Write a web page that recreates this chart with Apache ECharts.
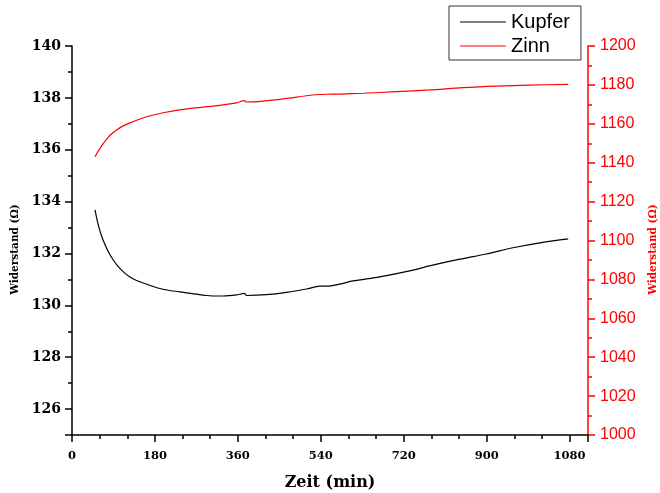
<!DOCTYPE html>
<html>
<head>
<meta charset="utf-8">
<script src="https://cdn.jsdelivr.net/npm/echarts@6/dist/echarts.min.js"></script>
<style>
  html, body { margin: 0; padding: 0; background: #fff; }
  #chart { width: 660px; height: 493px; }
</style>
</head>
<body>
<div id="chart"></div>
<script>
// Kupfer: Widerstand in Ohm (linke Achse)
const kupferZeit = [50, 55, 61, 66, 72, 80, 90, 100, 111, 125, 140, 195, 234, 292, 328, 357, 374, 379, 422, 466, 509, 538, 552, 581, 610, 668, 733, 776, 834, 899, 957, 1022, 1077];
const kupferWiderstand = [133.68, 133.25, 132.85, 132.59, 132.33, 132.03, 131.74, 131.50, 131.30, 131.10, 130.96, 130.63, 130.52, 130.38, 130.36, 130.40, 130.46, 130.38, 130.41, 130.50, 130.63, 130.74, 130.74, 130.82, 130.94, 131.10, 131.33, 131.52, 131.75, 131.98, 132.22, 132.43, 132.56];

// Zinn: Widerstand in Ohm (rechte Achse)
const zinnZeit = [50, 55, 60, 67, 75, 85, 97, 110, 126, 162, 198, 249, 306, 357, 374, 379, 451, 523, 552, 581, 632, 704, 776, 849, 921, 993, 1077];
const zinnWiderstand = [1143.1, 1145.2, 1147.0, 1149.6, 1152.0, 1154.6, 1156.8, 1158.8, 1160.5, 1163.6, 1165.7, 1167.7, 1169.1, 1170.8, 1171.9, 1171.2, 1172.6, 1174.8, 1175.2, 1175.3, 1175.7, 1176.5, 1177.4, 1178.6, 1179.4, 1179.9, 1180.3];

const serienNamen = ['Kupfer', 'Zinn'];
const achsenTitelX = 'Zeit (min)';
const achsenTitelY = 'Widerstand (Ω)';

const pairs = (xs, ys) => xs.map((x, i) => [x, ys[i]]);
const plain = (v) => String(v);

const serif = '"DejaVu Serif", "Liberation Serif", serif';
const sans = '"Liberation Sans", Arial, sans-serif';
const red = '#ff0000';

const chart = echarts.init(document.getElementById('chart'), null, { renderer: 'canvas' });
chart.setOption({
  animation: false,
  backgroundColor: '#fff',
  grid: { left: 72, right: 72, top: 46, bottom: 58, containLabel: false, outerBoundsMode: 'none' },
  legend: {
    orient: 'vertical',
    left: 449,
    top: 6,
    padding: [6, 11, 4, 11],
    itemGap: 4,
    itemWidth: 46,
    itemHeight: 1.2,
    icon: 'rect',
    borderColor: '#333',
    borderWidth: 1,
    backgroundColor: '#fff',
    textStyle: { fontFamily: sans, fontSize: 20, lineHeight: 20, color: '#000' },
    data: serienNamen
  },
  xAxis: {
    type: 'value',
    min: 0,
    max: 1120,
    interval: 180,
    name: achsenTitelX,
    nameLocation: 'middle',
    nameGap: 40,
    nameTextStyle: { fontFamily: serif, fontWeight: 'bold', fontSize: 16, color: '#000' },
    axisLine: { lineStyle: { color: '#000', width: 1.5 } },
    axisTick: { length: 7, lineStyle: { color: '#000', width: 1.5 } },
    minorTick: { show: true, splitNumber: 3, length: 4, lineStyle: { color: '#000', width: 1.5 } },
    axisLabel: { margin: 15, showMaxLabel: false, formatter: plain, fontFamily: serif, fontWeight: 'bold', fontSize: 11.5, color: '#000' },
    splitLine: { show: false }
  },
  yAxis: [
    {
      type: 'value',
      position: 'left',
      min: 125,
      max: 140,
      splitNumber: 7,
      name: achsenTitelY,
      nameLocation: 'middle',
      nameRotate: 90,
      nameGap: 47,
      nameTextStyle: { fontFamily: serif, fontWeight: 'bold', fontSize: 10.5, color: '#000', padding: [0, 18, 0, 0] },
      axisLine: { show: true, lineStyle: { color: '#000', width: 1.5 } },
      axisTick: { show: true, length: 7, lineStyle: { color: '#000', width: 1.5 } },
      minorTick: { show: true, splitNumber: 2, length: 4, lineStyle: { color: '#000', width: 1.5 } },
      axisLabel: { margin: 11, showMinLabel: false, formatter: plain, fontFamily: serif, fontWeight: 'bold', fontSize: 14, color: '#000' },
      splitLine: { show: false }
    },
    {
      type: 'value',
      position: 'right',
      min: 1000,
      max: 1200,
      interval: 20,
      name: achsenTitelY,
      nameLocation: 'middle',
      nameRotate: 90,
      nameGap: 60,
      nameTextStyle: { fontFamily: serif, fontWeight: 'bold', fontSize: 10.5, color: red, padding: [0, 18, 0, 0] },
      axisLine: { show: true, lineStyle: { color: red, width: 1.5 } },
      axisTick: { show: true, length: 7, lineStyle: { color: red, width: 1.5 } },
      minorTick: { show: true, splitNumber: 2, length: 4, lineStyle: { color: red, width: 1.5 } },
      axisLabel: { margin: 12, formatter: plain, fontFamily: sans, fontSize: 16, color: red },
      splitLine: { show: false }
    }
  ],
  series: [
    {
      name: serienNamen[0],
      type: 'line',
      yAxisIndex: 0,
      data: pairs(kupferZeit, kupferWiderstand),
      symbol: 'none',
      showSymbol: false,
      smooth: 0.3,
      lineStyle: { color: '#000', width: 1.2 },
      itemStyle: { color: '#000' }
    },
    {
      name: serienNamen[1],
      type: 'line',
      yAxisIndex: 1,
      data: pairs(zinnZeit, zinnWiderstand),
      symbol: 'none',
      showSymbol: false,
      smooth: 0.3,
      lineStyle: { color: red, width: 1.2 },
      itemStyle: { color: red }
    }
  ]
});
</script>
</body>
</html>
